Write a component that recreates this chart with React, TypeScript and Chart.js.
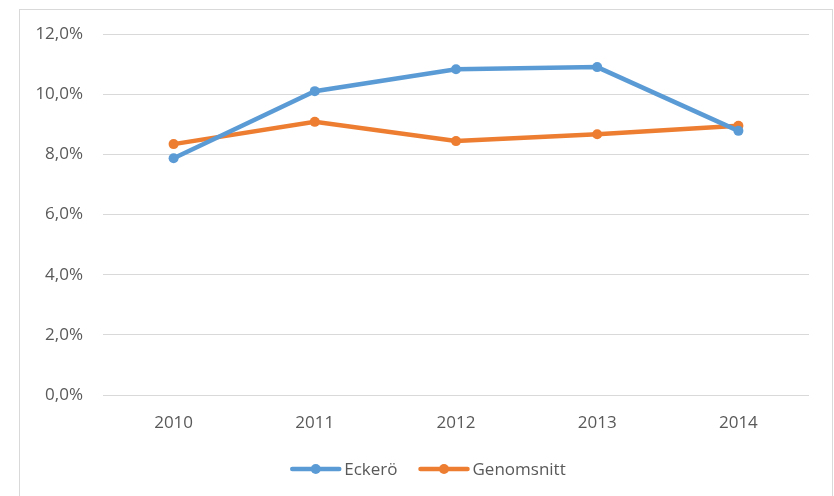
import React, { useEffect, useRef } from "react";
import { Chart, registerables } from "chart.js";

Chart.register(...registerables);

const years = ["2010", "2011", "2012", "2013", "2014"];
const eckero = [7.87, 10.1, 10.83, 10.9, 8.78];
const genomsnitt = [8.34, 9.08, 8.44, 8.67, 8.95];
const seriesNames = ["Eckerö", "Genomsnitt"];
const seriesColors = ["#5B9BD5", "#ED7D31"];

const FONT = "'Open Sans', sans-serif";
const TEXT = "#595959";

const legendPlugin = {
  id: "lineLegend",
  afterDraw(chart: any) {
    const ctx = chart.ctx;
    ctx.save();
    ctx.font = `17px ${FONT}`;
    const lineLen = 47;
    const gapText = 5;
    const gapItem = 23;
    const widths = chart.data.datasets.map((d: any) => ctx.measureText(d.label).width);
    const total =
      widths.reduce((a: number, w: number) => a + lineLen + gapText + w, 0) + gapItem * (widths.length - 1);
    let x = 429 - total / 2;
    const y = 469;
    chart.data.datasets.forEach((d: any, i: number) => {
      ctx.strokeStyle = d.borderColor;
      ctx.lineWidth = 4.5;
      ctx.lineCap = "round";
      ctx.beginPath();
      ctx.moveTo(x, y);
      ctx.lineTo(x + lineLen, y);
      ctx.stroke();
      ctx.fillStyle = d.borderColor;
      ctx.beginPath();
      ctx.arc(x + lineLen / 2, y, 5, 0, Math.PI * 2);
      ctx.fill();
      ctx.fillStyle = TEXT;
      ctx.textBaseline = "middle";
      ctx.textAlign = "left";
      ctx.fillText(d.label, x + lineLen + gapText, y + 1);
      x += lineLen + gapText + widths[i] + gapItem;
    });
    ctx.restore();
  },
};

export default function App() {
  const ref = useRef<HTMLCanvasElement>(null);
  useEffect(() => {
    if (!ref.current) return;
    const chart = new Chart(ref.current, {
      type: "line",
      data: {
        labels: years,
        datasets: [eckero, genomsnitt].map((vals, i) => ({
          label: seriesNames[i],
          data: vals,
          borderColor: seriesColors[i],
          backgroundColor: seriesColors[i],
          borderWidth: 4.5,
          pointRadius: 5,
          pointBackgroundColor: seriesColors[i],
          pointBorderWidth: 0,
          tension: 0,
          fill: false,
        })),
      },
      options: {
        animation: false,
        responsive: false,
        layout: { padding: { left: 0, right: 25, top: 34, bottom: 51 } },
        plugins: { legend: { display: false }, tooltip: { enabled: false } },
        scales: {
          x: {
            offset: true,
            grid: { display: false, drawTicks: false },
            border: { display: false },
            ticks: { color: TEXT, font: { family: FONT, size: 17 }, padding: 18 },
            afterFit: (s: any) => {
              s.height = 50;
            },
          },
          y: {
            min: 0,
            max: 12,
            grid: { color: "#d9d9d9", lineWidth: 1, drawTicks: false },
            border: { display: false },
            ticks: {
              stepSize: 2,
              color: TEXT,
              font: { family: FONT, size: 17 },
              padding: 20,
              callback: (v: any) => Number(v).toFixed(1).replace(".", ",") + "%",
            },
            afterFit: (s: any) => {
              s.width = 103;
            },
          },
        },
      },
      plugins: [legendPlugin],
    });
    return () => chart.destroy();
  }, []);
  return (
    <div style={{ position: "fixed", left: 0, top: 0, width: 834, height: 496, overflow: "hidden", background: "#fff" }}>
      <div
        style={{
          position: "absolute",
          left: 19,
          top: 9,
          width: 812,
          height: 600,
          border: "1px solid #d9d9d9",
        }}
      />
      <canvas ref={ref} width={834} height={496} style={{ position: "absolute", left: 0, top: 0 }} />
    </div>
  );
}
